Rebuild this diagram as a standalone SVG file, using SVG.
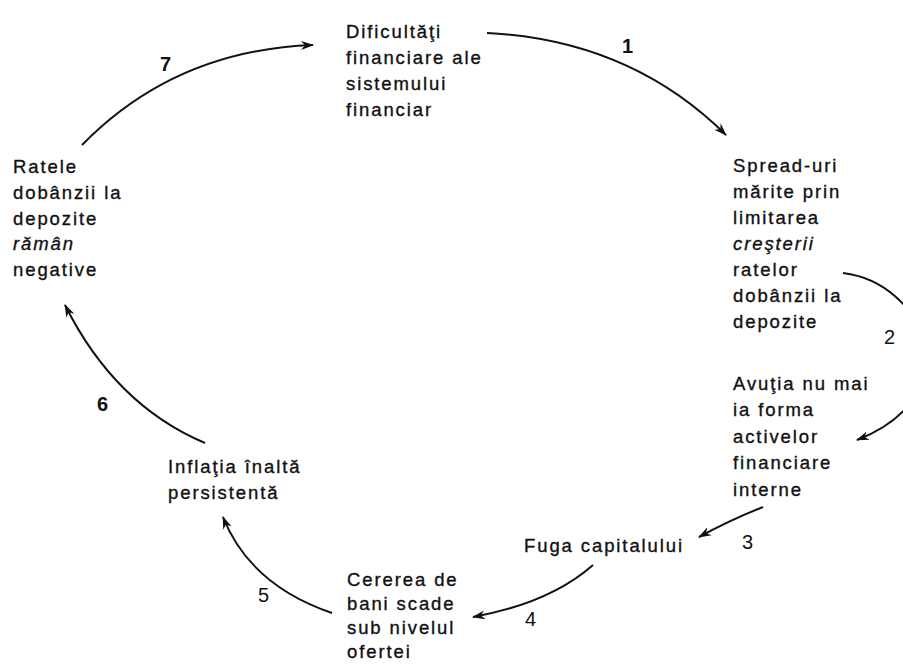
<svg xmlns="http://www.w3.org/2000/svg" width="903" height="664" viewBox="0 0 903 664">
<style>
.t{font-family:"Liberation Sans",Arial,sans-serif;font-size:18.5px;letter-spacing:1.9px;fill:#111;stroke:#111;stroke-width:0.35px}
.i{font-style:italic}
.n{font-family:"Liberation Sans",Arial,sans-serif;font-size:20px;fill:#111}
.b{font-weight:bold}
.c{fill:none;stroke:#111;stroke-width:2;marker-end:url(#ah)}
</style>
<defs>
<marker id="ah" markerWidth="14" markerHeight="10" refX="12" refY="5" orient="auto" markerUnits="userSpaceOnUse">
<path d="M0,0.5 L13,5 L0,9.5 L4,5 Z" fill="#111"/>
</marker>
</defs>
<rect width="903" height="664" fill="#fff"/>
<g id="connectors">
<path class="c" d="M487,33 Q630,40 726,135"/>
<path class="c" d="M843,273 C925,283 972,395 857,440"/>
<path class="c" d="M763,507 Q730,520 699,537"/>
<path class="c" d="M593,565 Q550,603 473,617"/>
<path class="c" d="M332,613 Q250,585 223,517"/>
<path class="c" d="M205,443 Q115,405 65,305"/>
<path class="c" d="M82,145 Q175,50 313,45"/>
<text class="n b" x="622" y="53">1</text>
<text class="n" x="884" y="344">2</text>
<text class="n" x="742" y="549">3</text>
<text class="n" x="525" y="626">4</text>
<text class="n" x="258" y="602">5</text>
<text class="n b" x="97" y="411">6</text>
<text class="n b" x="160" y="71">7</text>
</g>
<g id="n1">
<text class="t" x="346" y="38">Dificultăţi</text>
<text class="t" x="346" y="64">financiare ale</text>
<text class="t" x="346" y="90">sistemului</text>
<text class="t" x="346" y="116">financiar</text>
</g>
<g id="n2">
<text class="t" x="733" y="172">Spread-uri</text>
<text class="t" x="733" y="198">mărite prin</text>
<text class="t" x="733" y="224">limitarea</text>
<text class="t i" x="733" y="250">creşterii</text>
<text class="t" x="733" y="276">ratelor</text>
<text class="t" x="733" y="302">dobânzii la</text>
<text class="t" x="733" y="328">depozite</text>
</g>
<g id="n3">
<text class="t" x="733" y="390">Avuţia nu mai</text>
<text class="t" x="733" y="416">ia forma</text>
<text class="t" x="733" y="443">activelor</text>
<text class="t" x="733" y="469">financiare</text>
<text class="t" x="733" y="496">interne</text>
</g>
<g id="n4">
<text class="t" x="524" y="552">Fuga capitalului</text>
</g>
<g id="n5">
<text class="t" x="347" y="586">Cererea de</text>
<text class="t" x="347" y="610">bani scade</text>
<text class="t" x="347" y="634">sub nivelul</text>
<text class="t" x="347" y="658">ofertei</text>
</g>
<g id="n6">
<text class="t" x="168" y="473">Inflaţia înaltă</text>
<text class="t" x="168" y="499">persistentă</text>
</g>
<g id="n7">
<text class="t" x="13" y="173">Ratele</text>
<text class="t" x="13" y="199">dobânzii la</text>
<text class="t" x="13" y="225">depozite</text>
<text class="t i" x="13" y="250">rămân</text>
<text class="t" x="13" y="276">negative</text>
</g>
</svg>
